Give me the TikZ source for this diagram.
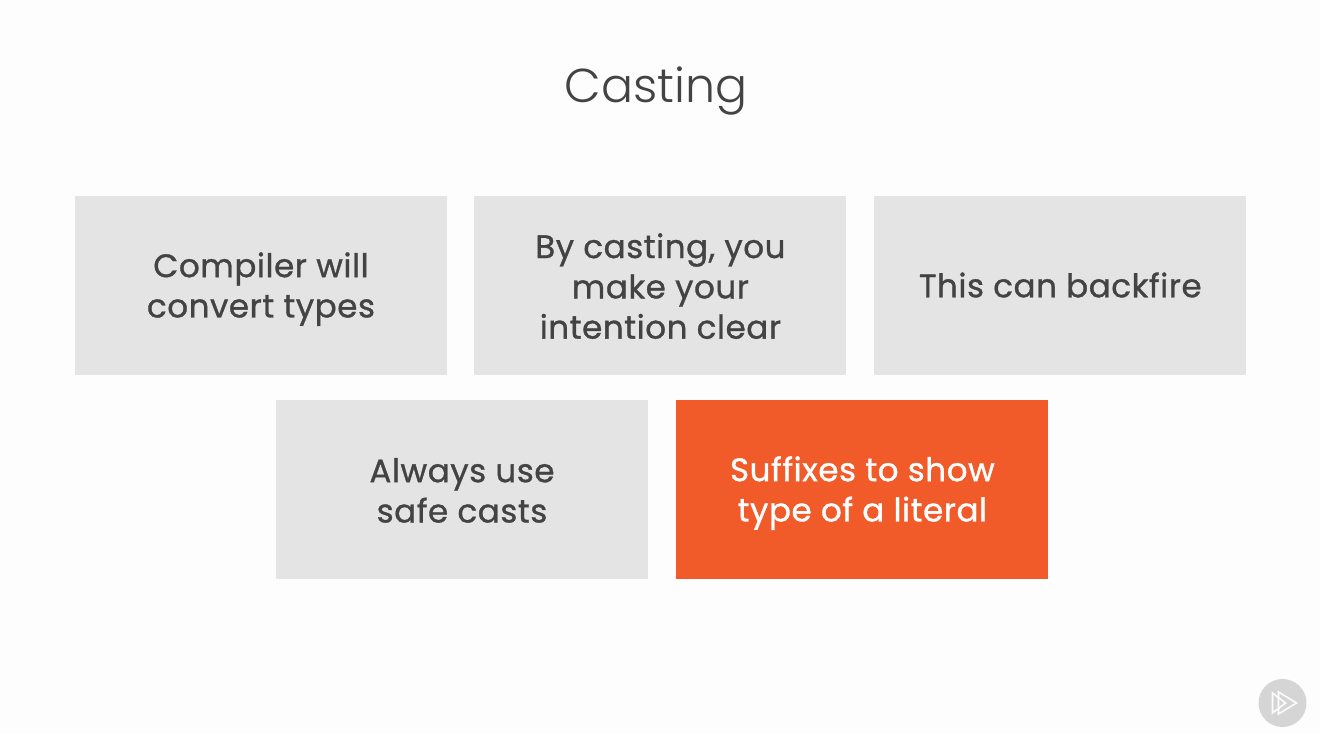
\documentclass[tikz,border=0pt]{standalone}
\usepackage{fontspec}
\setmainfont{Poppins}
\newfontfamily\cardfont[FakeBold=1, LetterSpace=1.8]{Poppins}
\newfontfamily\titlefont{Poppins Light}
\usepackage{tikz}
\usetikzlibrary{positioning, calc}
\definecolor{boxgray}{HTML}{E4E4E4}
\definecolor{boxorange}{HTML}{F15B2A}
\definecolor{textgray}{HTML}{434343}
\definecolor{logogray}{HTML}{D5D5D5}
\definecolor{pagewhite}{HTML}{FDFDFD}
\newcommand{\liftline}[1][32pt]{\rule{0pt}{#1}}

\begin{document}
\begin{tikzpicture}[
    x=1pt, y=1pt,
    cardnode/.style={rectangle, fill=boxgray, text=textgray, minimum width=372pt, minimum height=179pt, inner sep=0pt, align=center, font=\cardfont\fontsize{32.5}{40.3}\selectfont},
    hotnode/.style={cardnode, fill=boxorange, text=white},
    logoline/.style={draw=white!92!logogray, line width=1.6pt, line join=miter}
]
    \fill[pagewhite] (0, 0) rectangle (1320, 734);
    \useasboundingbox (0, 0) rectangle (1320, 734);

    \node[font=\titlefont\fontsize{47.5}{56}\selectfont, text=textgray, inner sep=0pt] (title) at (656, 643) {Casting};

    \node[cardnode] (card_compiler) at (261, 448.5) {\liftline Compiler will\\convert types};
    \node[cardnode] (card_casting) [right=27pt of card_compiler] {\liftline[26pt]By casting, you\\make your\\intention clear};
    \node[cardnode] (card_backfire) [right=27.5pt of card_casting] {\liftline This can backfire\vphantom{p}};

    \node[cardnode] (card_safe) at (462, 244.5) {\liftline[26pt]Always use\\safe casts};
    \node[hotnode] (card_suffix) [right=28pt of card_safe] {\liftline Suffixes to show\\type of a literal};

    % logo
    \node[circle, fill=logogray, minimum size=48pt, inner sep=0pt] (logo) at (1282.5, 31) {};
    \draw[logoline] ($(logo)+(-10, 10)$) -- ($(logo)+(-10, -10)$) -- ($(logo)+(3, 0)$) -- cycle;
    \draw[logoline] ($(logo)+(-4, 11)$) -- ($(logo)+(-4, -11)$) -- ($(logo)+(14, 0)$) -- cycle;
\end{tikzpicture}
\end{document}
